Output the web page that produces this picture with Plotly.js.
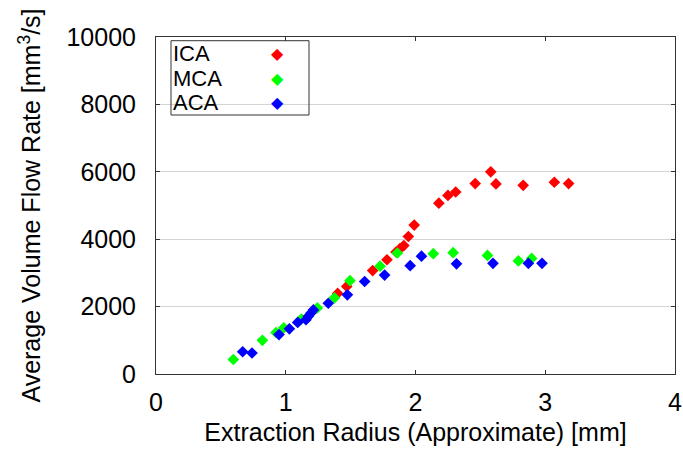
<!DOCTYPE html>
<html>
<head>
<meta charset="utf-8">
<script src="https://cdn.plot.ly/plotly-3.0.1.min.js"></script>
<style>html,body{margin:0;padding:0;background:#fff;}#chart{width:683px;height:451px;}</style>
</head>
<body>
<div id="chart"></div>
<script>
// ICA
const icaX = [1.40, 1.47, 1.67, 1.78, 1.85, 1.88, 1.91, 1.945, 1.99, 2.18, 2.25, 2.31, 2.46, 2.58, 2.62, 2.83, 3.07, 3.18];
const icaY = [2390, 2600, 3070, 3390, 3620, 3720, 3810, 4080, 4420, 5070, 5300, 5400, 5650, 6000, 5640, 5600, 5690, 5650];
// MCA
const mcaX = [0.596, 0.82, 0.925, 0.985, 1.12, 1.243, 1.375, 1.495, 1.727, 1.86, 2.137, 2.29, 2.555, 2.793, 2.895];
const mcaY = [430, 1000, 1230, 1370, 1630, 1960, 2260, 2770, 3200, 3590, 3570, 3600, 3520, 3355, 3430];
// ACA
const acaX = [0.668, 0.74, 0.948, 1.028, 1.092, 1.156, 1.174, 1.195, 1.213, 1.328, 1.475, 1.608, 1.762, 1.959, 2.046, 2.316, 2.597, 2.87, 2.975];
const acaY = [660, 623, 1170, 1340, 1530, 1610, 1710, 1810, 1900, 2100, 2350, 2745, 2935, 3215, 3495, 3270, 3285, 3285, 3285];

const seriesNames = ['ICA', 'MCA', 'ACA'];
const seriesColors = ['#ff0000', '#00ff00', '#0000ff'];
const xTicks = [0, 1, 2, 3, 4];
const yTicks = [0, 2000, 4000, 6000, 8000, 10000];

const FONT = 'Liberation Sans, Arial, Helvetica, sans-serif';
const FS = 25;
const xs = [icaX, mcaX, acaX], ys = [icaY, mcaY, acaY];
const traces = seriesNames.map((n, i) => ({
  type: 'scatter', mode: 'markers', name: n, x: xs[i], y: ys[i],
  marker: {symbol: 'diamond', size: 9, color: seriesColors[i]},
  showlegend: false, cliponaxis: false
}));

// legend drawn as box + text
const rowY = [0.9516, 0.8783, 0.8042];
const annotations = [];
seriesNames.forEach((n, i) => {
  annotations.push({xref: 'paper', yref: 'paper', x: 0.0308, y: rowY[i], xanchor: 'left', yanchor: 'middle',
    text: n, showarrow: false, borderpad: 0, font: {family: FONT, size: 22, color: '#000'}});
  annotations.push({xref: 'paper', yref: 'paper', x: 0.2335, y: rowY[i], xanchor: 'center', yanchor: 'middle',
    text: '\u25C6', showarrow: false, borderpad: 0, font: {family: 'DejaVu Sans', size: 16, color: seriesColors[i]}});
});

const layout = {
  width: 683, height: 451,
  margin: {l: 156, r: 8, t: 37, b: 77},
  paper_bgcolor: '#fff', plot_bgcolor: '#fff',
  font: {family: FONT, size: FS, color: '#000'},
  showlegend: false,
  xaxis: {
    range: [0, 4], tickvals: xTicks, ticktext: xTicks.map(String),
    showgrid: false, zeroline: false,
    showline: true, linecolor: '#333', linewidth: 1, mirror: 'ticks',
    ticks: 'inside', ticklen: 4, tickcolor: '#333',
    ticklabelstandoff: 6,
    tickfont: {family: FONT, size: FS, color: '#000'},
    title: {text: 'Extraction Radius (Approximate) [mm]', font: {family: FONT, size: FS, color: '#000'}, standoff: 8}
  },
  yaxis: {
    range: [0, 10000], tickvals: yTicks, ticktext: yTicks.map(String),
    showgrid: true, gridcolor: '#d4d4d4', gridwidth: 1, zeroline: false,
    showline: true, linecolor: '#333', linewidth: 1, mirror: 'ticks',
    ticks: 'inside', ticklen: 4, tickcolor: '#333',
    ticklabelstandoff: 14,
    tickfont: {family: FONT, size: FS, color: '#000'},
    title: {text: 'Average Volume Flow Rate [mm<sup>3</sup>/s]', font: {family: FONT, size: FS, color: '#000'}, standoff: 18}
  },
  shapes: [{type: 'rect', xref: 'paper', yref: 'paper', x0: 0.0289, x1: 0.2948, y0: 0.7685, y1: 0.989,
    line: {color: '#333', width: 1}, fillcolor: 'rgba(0,0,0,0)'}],
  annotations: annotations
};

Plotly.newPlot('chart', traces, layout, {displayModeBar: false, staticPlot: true});
</script>
</body>
</html>
